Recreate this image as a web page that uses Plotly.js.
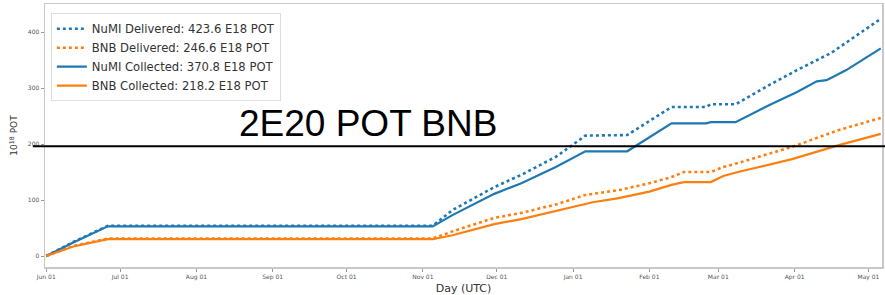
<!DOCTYPE html>
<html>
<head>
<meta charset="utf-8">
<script src="https://cdn.plot.ly/plotly-3.0.1.min.js"></script>
<style>html,body{margin:0;padding:0;background:#fff;}#chart{width:885px;height:295px;}</style>
</head>
<body>
<div id="chart"></div>
<script>
// NuMI delivered (dotted blue)
const numiDelDates = ['2022-06-01','2022-06-12','2022-06-26','2022-11-05','2022-11-13','2022-11-30','2022-12-11','2022-12-25','2023-01-06','2023-01-23','2023-02-10','2023-02-24','2023-02-26','2023-03-08','2023-03-22','2023-04-02','2023-04-16','2023-05-06'];
const numiDelValues = [0,25,54,54,82,123,145,177,215,216,266,266,271,271,306,332,363,423.6];
// NuMI collected (solid blue)
const numiColDates = ['2022-06-01','2022-06-12','2022-06-26','2022-11-05','2022-11-13','2022-11-30','2022-12-11','2022-12-25','2023-01-06','2023-01-23','2023-02-10','2023-02-24','2023-02-26','2023-03-08','2023-03-22','2023-04-02','2023-04-10','2023-04-14','2023-04-22','2023-05-06'];
const numiColValues = [0,24,53,53,73,111,130,159,187,187,237,237,239,239,270,293,312,314,332,370.8];
// BNB delivered (dotted orange)
const bnbDelDates = ['2022-06-01','2022-06-12','2022-06-26','2022-11-05','2022-11-13','2022-11-30','2022-12-11','2022-12-25','2023-01-06','2023-01-20','2023-02-01','2023-02-10','2023-02-15','2023-02-26','2023-03-03','2023-03-09','2023-03-31','2023-04-19','2023-05-06'];
const bnbDelValues = [0,18,31,31,44,68,77,92,109,118,130,141,150,150,159,166,195,225,246.6];
// BNB collected (solid orange)
const bnbColDates = ['2022-06-01','2022-06-12','2022-06-26','2022-11-05','2022-11-13','2022-11-30','2022-12-11','2022-12-25','2023-01-09','2023-01-19','2023-02-01','2023-02-10','2023-02-15','2023-02-26','2023-03-03','2023-03-09','2023-03-31','2023-04-19','2023-05-06'];
const bnbColValues = [0,17,30,30,37,57,66,81,96,103,115,127,132,132,143,150,173,198,218.2];

const names = ['NuMI Delivered: 423.6 E18 POT','BNB Delivered: 246.6 E18 POT','NuMI Collected: 370.8 E18 POT','BNB Collected: 218.2 E18 POT'];
const targetValue = 196;
const targetLabel = '2E20 POT BNB';
const blue = '#1f77b4', orange = '#ff7f0e';

const traces = [
  {x: numiDelDates, y: numiDelValues, name: names[0], mode: 'lines', line: {color: blue, width: 2.6, dash: 'dot'}},
  {x: bnbDelDates, y: bnbDelValues, name: names[1], mode: 'lines', line: {color: orange, width: 2.6, dash: 'dot'}},
  {x: numiColDates, y: numiColValues, name: names[2], mode: 'lines', line: {color: blue, width: 2.2}},
  {x: bnbColDates, y: bnbColValues, name: names[3], mode: 'lines', line: {color: orange, width: 2.2}}
];

const layout = {
  width: 885, height: 295,
  margin: {l: 45, r: 3, t: 4, b: 28},
  paper_bgcolor: '#fff', plot_bgcolor: '#fff',
  font: {family: 'DejaVu Sans, sans-serif', color: '#444'},
  xaxis: {
    type: 'date',
    range: ['2022-05-31 12:00', '2023-05-06 12:00'],
    tick0: '2022-06-01', dtick: 'M1', tickformat: '%b %d',
    ticks: 'outside', ticklen: 3, tickcolor: '#999',
    tickfont: {size: 6, color: '#555'},
    showgrid: false, zeroline: false,
    showline: true, mirror: true, linecolor: '#c8c8c8', linewidth: 1.5,
    title: {text: 'Day (UTC)', font: {size: 11, color: '#333'}, standoff: 4}
  },
  yaxis: {
    range: [-19.6, 450],
    tickvals: [0,100,200,300,400],
    ticks: 'outside', ticklen: 3, tickcolor: '#999',
    tickfont: {size: 6, color: '#555'},
    showgrid: false, zeroline: false,
    showline: true, mirror: true, linecolor: '#c8c8c8', linewidth: 1.5,
    title: {text: '10<sup>18</sup> POT', font: {size: 9, color: '#333'}, standoff: 8}
  },
  legend: {
    x: 0.007, y: 0.965, xanchor: 'left', yanchor: 'top',
    bgcolor: 'rgba(255,255,255,0.9)', bordercolor: '#ddd', borderwidth: 1,
    font: {size: 11.6, color: '#333'}
  },
  showlegend: true,
  shapes: [{
    type: 'line', xref: 'paper', yref: 'y',
    x0: -0.0145, x1: 1.004, y0: targetValue, y1: targetValue,
    line: {color: '#000', width: 2}
  }],
  annotations: [{
    text: targetLabel, xref: 'paper', yref: 'paper',
    x: 0.229, y: 0.545, xanchor: 'left', yanchor: 'middle',
    showarrow: false,
    font: {family: 'Liberation Sans, Arial, sans-serif', size: 37, color: '#000'}
  }]
};

Plotly.newPlot('chart', traces, layout, {displayModeBar: false, staticPlot: true});
</script>
</body>
</html>
